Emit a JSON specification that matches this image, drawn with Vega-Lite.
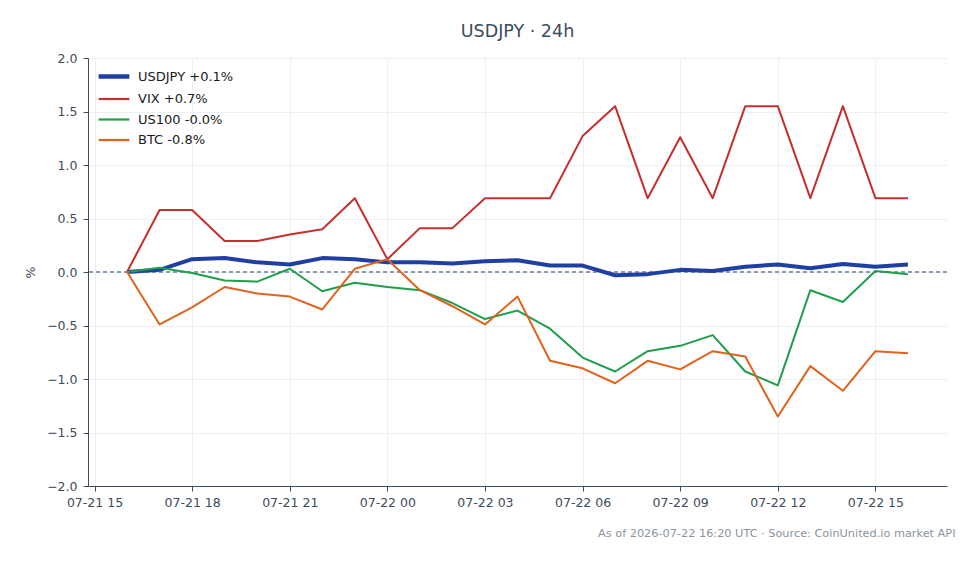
{
"$schema": "https://vega.github.io/schema/vega-lite/v6.json",
"width": 859, "height": 428,
"autosize": {"type": "none"},
"padding": {"left": 88, "top": 58, "right": 32, "bottom": 78},
"background": "white",
"config": {"font": "DejaVu Sans", "view": {"stroke": null}},
"title": {"text": "USDJPY · 24h", "fontSize": 17.5, "fontWeight": "normal", "color": "#3d4b5c", "offset": 12, "anchor": "middle"},
"data": {"values": [
{"t":"2026-07-21T16:00:00Z","s":"USDJPY +0.1%","v":0},
{"t":"2026-07-21T17:00:00Z","s":"USDJPY +0.1%","v":0.02},
{"t":"2026-07-21T18:00:00Z","s":"USDJPY +0.1%","v":0.12},
{"t":"2026-07-21T19:00:00Z","s":"USDJPY +0.1%","v":0.13},
{"t":"2026-07-21T20:00:00Z","s":"USDJPY +0.1%","v":0.09},
{"t":"2026-07-21T21:00:00Z","s":"USDJPY +0.1%","v":0.07},
{"t":"2026-07-21T22:00:00Z","s":"USDJPY +0.1%","v":0.13},
{"t":"2026-07-21T23:00:00Z","s":"USDJPY +0.1%","v":0.12},
{"t":"2026-07-22T00:00:00Z","s":"USDJPY +0.1%","v":0.09},
{"t":"2026-07-22T01:00:00Z","s":"USDJPY +0.1%","v":0.09},
{"t":"2026-07-22T02:00:00Z","s":"USDJPY +0.1%","v":0.08},
{"t":"2026-07-22T03:00:00Z","s":"USDJPY +0.1%","v":0.10},
{"t":"2026-07-22T04:00:00Z","s":"USDJPY +0.1%","v":0.11},
{"t":"2026-07-22T05:00:00Z","s":"USDJPY +0.1%","v":0.06},
{"t":"2026-07-22T06:00:00Z","s":"USDJPY +0.1%","v":0.06},
{"t":"2026-07-22T07:00:00Z","s":"USDJPY +0.1%","v":-0.03},
{"t":"2026-07-22T08:00:00Z","s":"USDJPY +0.1%","v":-0.02},
{"t":"2026-07-22T09:00:00Z","s":"USDJPY +0.1%","v":0.02},
{"t":"2026-07-22T10:00:00Z","s":"USDJPY +0.1%","v":0.01},
{"t":"2026-07-22T11:00:00Z","s":"USDJPY +0.1%","v":0.05},
{"t":"2026-07-22T12:00:00Z","s":"USDJPY +0.1%","v":0.07},
{"t":"2026-07-22T13:00:00Z","s":"USDJPY +0.1%","v":0.035},
{"t":"2026-07-22T14:00:00Z","s":"USDJPY +0.1%","v":0.075},
{"t":"2026-07-22T15:00:00Z","s":"USDJPY +0.1%","v":0.05},
{"t":"2026-07-22T16:00:00Z","s":"USDJPY +0.1%","v":0.07},
{"t":"2026-07-21T16:00:00Z","s":"VIX +0.7%","v":0},
{"t":"2026-07-21T17:00:00Z","s":"VIX +0.7%","v":0.58},
{"t":"2026-07-21T18:00:00Z","s":"VIX +0.7%","v":0.58},
{"t":"2026-07-21T19:00:00Z","s":"VIX +0.7%","v":0.29},
{"t":"2026-07-21T20:00:00Z","s":"VIX +0.7%","v":0.29},
{"t":"2026-07-21T21:00:00Z","s":"VIX +0.7%","v":0.35},
{"t":"2026-07-21T22:00:00Z","s":"VIX +0.7%","v":0.40},
{"t":"2026-07-21T23:00:00Z","s":"VIX +0.7%","v":0.69},
{"t":"2026-07-22T00:00:00Z","s":"VIX +0.7%","v":0.12},
{"t":"2026-07-22T01:00:00Z","s":"VIX +0.7%","v":0.41},
{"t":"2026-07-22T02:00:00Z","s":"VIX +0.7%","v":0.41},
{"t":"2026-07-22T03:00:00Z","s":"VIX +0.7%","v":0.69},
{"t":"2026-07-22T04:00:00Z","s":"VIX +0.7%","v":0.69},
{"t":"2026-07-22T05:00:00Z","s":"VIX +0.7%","v":0.69},
{"t":"2026-07-22T06:00:00Z","s":"VIX +0.7%","v":1.27},
{"t":"2026-07-22T07:00:00Z","s":"VIX +0.7%","v":1.55},
{"t":"2026-07-22T08:00:00Z","s":"VIX +0.7%","v":0.69},
{"t":"2026-07-22T09:00:00Z","s":"VIX +0.7%","v":1.26},
{"t":"2026-07-22T10:00:00Z","s":"VIX +0.7%","v":0.69},
{"t":"2026-07-22T11:00:00Z","s":"VIX +0.7%","v":1.55},
{"t":"2026-07-22T12:00:00Z","s":"VIX +0.7%","v":1.55},
{"t":"2026-07-22T13:00:00Z","s":"VIX +0.7%","v":0.69},
{"t":"2026-07-22T14:00:00Z","s":"VIX +0.7%","v":1.55},
{"t":"2026-07-22T15:00:00Z","s":"VIX +0.7%","v":0.69},
{"t":"2026-07-22T16:00:00Z","s":"VIX +0.7%","v":0.69},
{"t":"2026-07-21T16:00:00Z","s":"US100 -0.0%","v":0},
{"t":"2026-07-21T17:00:00Z","s":"US100 -0.0%","v":0.04},
{"t":"2026-07-21T18:00:00Z","s":"US100 -0.0%","v":-0.01},
{"t":"2026-07-21T19:00:00Z","s":"US100 -0.0%","v":-0.08},
{"t":"2026-07-21T20:00:00Z","s":"US100 -0.0%","v":-0.09},
{"t":"2026-07-21T21:00:00Z","s":"US100 -0.0%","v":0.03},
{"t":"2026-07-21T22:00:00Z","s":"US100 -0.0%","v":-0.18},
{"t":"2026-07-21T23:00:00Z","s":"US100 -0.0%","v":-0.10},
{"t":"2026-07-22T00:00:00Z","s":"US100 -0.0%","v":-0.14},
{"t":"2026-07-22T01:00:00Z","s":"US100 -0.0%","v":-0.17},
{"t":"2026-07-22T02:00:00Z","s":"US100 -0.0%","v":-0.29},
{"t":"2026-07-22T03:00:00Z","s":"US100 -0.0%","v":-0.44},
{"t":"2026-07-22T04:00:00Z","s":"US100 -0.0%","v":-0.36},
{"t":"2026-07-22T05:00:00Z","s":"US100 -0.0%","v":-0.53},
{"t":"2026-07-22T06:00:00Z","s":"US100 -0.0%","v":-0.80},
{"t":"2026-07-22T07:00:00Z","s":"US100 -0.0%","v":-0.93},
{"t":"2026-07-22T08:00:00Z","s":"US100 -0.0%","v":-0.74},
{"t":"2026-07-22T09:00:00Z","s":"US100 -0.0%","v":-0.69},
{"t":"2026-07-22T10:00:00Z","s":"US100 -0.0%","v":-0.59},
{"t":"2026-07-22T11:00:00Z","s":"US100 -0.0%","v":-0.93},
{"t":"2026-07-22T12:00:00Z","s":"US100 -0.0%","v":-1.06},
{"t":"2026-07-22T13:00:00Z","s":"US100 -0.0%","v":-0.17},
{"t":"2026-07-22T14:00:00Z","s":"US100 -0.0%","v":-0.28},
{"t":"2026-07-22T15:00:00Z","s":"US100 -0.0%","v":0.01},
{"t":"2026-07-22T16:00:00Z","s":"US100 -0.0%","v":-0.02},
{"t":"2026-07-21T16:00:00Z","s":"BTC -0.8%","v":0},
{"t":"2026-07-21T17:00:00Z","s":"BTC -0.8%","v":-0.49},
{"t":"2026-07-21T18:00:00Z","s":"BTC -0.8%","v":-0.33},
{"t":"2026-07-21T19:00:00Z","s":"BTC -0.8%","v":-0.14},
{"t":"2026-07-21T20:00:00Z","s":"BTC -0.8%","v":-0.20},
{"t":"2026-07-21T21:00:00Z","s":"BTC -0.8%","v":-0.23},
{"t":"2026-07-21T22:00:00Z","s":"BTC -0.8%","v":-0.35},
{"t":"2026-07-21T23:00:00Z","s":"BTC -0.8%","v":0.03},
{"t":"2026-07-22T00:00:00Z","s":"BTC -0.8%","v":0.12},
{"t":"2026-07-22T01:00:00Z","s":"BTC -0.8%","v":-0.17},
{"t":"2026-07-22T02:00:00Z","s":"BTC -0.8%","v":-0.32},
{"t":"2026-07-22T03:00:00Z","s":"BTC -0.8%","v":-0.49},
{"t":"2026-07-22T04:00:00Z","s":"BTC -0.8%","v":-0.23},
{"t":"2026-07-22T05:00:00Z","s":"BTC -0.8%","v":-0.83},
{"t":"2026-07-22T06:00:00Z","s":"BTC -0.8%","v":-0.90},
{"t":"2026-07-22T07:00:00Z","s":"BTC -0.8%","v":-1.04},
{"t":"2026-07-22T08:00:00Z","s":"BTC -0.8%","v":-0.83},
{"t":"2026-07-22T09:00:00Z","s":"BTC -0.8%","v":-0.91},
{"t":"2026-07-22T10:00:00Z","s":"BTC -0.8%","v":-0.74},
{"t":"2026-07-22T11:00:00Z","s":"BTC -0.8%","v":-0.79},
{"t":"2026-07-22T12:00:00Z","s":"BTC -0.8%","v":-1.35},
{"t":"2026-07-22T13:00:00Z","s":"BTC -0.8%","v":-0.88},
{"t":"2026-07-22T14:00:00Z","s":"BTC -0.8%","v":-1.11},
{"t":"2026-07-22T15:00:00Z","s":"BTC -0.8%","v":-0.74},
{"t":"2026-07-22T16:00:00Z","s":"BTC -0.8%","v":-0.76}
]},
"layer": [
{
"mark": {"type": "rule", "stroke": "#8a9bb0", "strokeDash": [4, 3], "strokeWidth": 1},
"encoding": {"y": {"datum": 0}}
},
{
"mark": {"type": "line", "strokeJoin": "round"},
"encoding": {
"x": {
"field": "t", "type": "temporal",
"scale": {"type": "utc", "domain": [1784645280000, 1784740320000]},
"axis": {
"title": "As of 2026-07-22 16:20 UTC · Source: CoinUnited.io market API",
"titleAnchor": "end", "titleAlign": "right", "titleBaseline": "middle", "titleX": 867, "titleY": 47,
"titleFontSize": 11.3, "titleFontWeight": "normal", "titleColor": "#8a94a0",
"values": [1784646000000, 1784656800000, 1784667600000, 1784678400000, 1784689200000, 1784700000000, 1784710800000, 1784721600000, 1784732400000],
"labelExpr": "utcFormat(datum.value, '%m-%d %H')",
"grid": true, "gridColor": "#e8ecf0", "gridWidth": 0.8,
"domainColor": "#3d4b5c", "tickColor": "#3d4b5c", "tickSize": 5,
"labelColor": "#3d4b5c", "labelFontSize": 12.5, "labelPadding": 5
}
},
"y": {
"field": "v", "type": "quantitative",
"scale": {"domain": [-2, 2], "nice": false},
"axis": {
"title": "%", "titleFontSize": 12.5, "titleFontWeight": "normal", "titleColor": "#3d4b5c", "titlePadding": 9,
"values": [-2, -1.5, -1, -0.5, 0, 0.5, 1, 1.5, 2], "format": ".1f",
"grid": true, "gridColor": "#e8ecf0", "gridWidth": 0.8,
"domainColor": "#3d4b5c", "tickColor": "#3d4b5c", "tickSize": 5,
"labelColor": "#3d4b5c", "labelFontSize": 12.5, "labelPadding": 6
}
},
"color": {
"field": "s", "type": "nominal",
"scale": {"domain": ["USDJPY +0.1%", "VIX +0.7%", "US100 -0.0%", "BTC -0.8%"], "range": ["#1f3fa3", "#c62f2f", "#1f9e4b", "#e0631d"]},
"legend": {
"title": null, "orient": "none", "legendX": 19.5, "legendY": 12, "padding": 0,
"symbolType": "M-1.5,0H1.5", "symbolSize": 420, "symbolStrokeWidth": 2.5, "rowPadding": 6.5,
"labelOffset": 17.5, "labelFontSize": 13, "labelColor": "#1a1a1a",
"encode": {"symbols": {"update": {"strokeWidth": {"signal": "datum.value === 'USDJPY +0.1%' ? 4.5 : 2.2"}}}}
}
},
"strokeWidth": {"condition": {"test": "datum.s === 'USDJPY +0.1%'", "value": 4}, "value": 2}
}
}
]
}
